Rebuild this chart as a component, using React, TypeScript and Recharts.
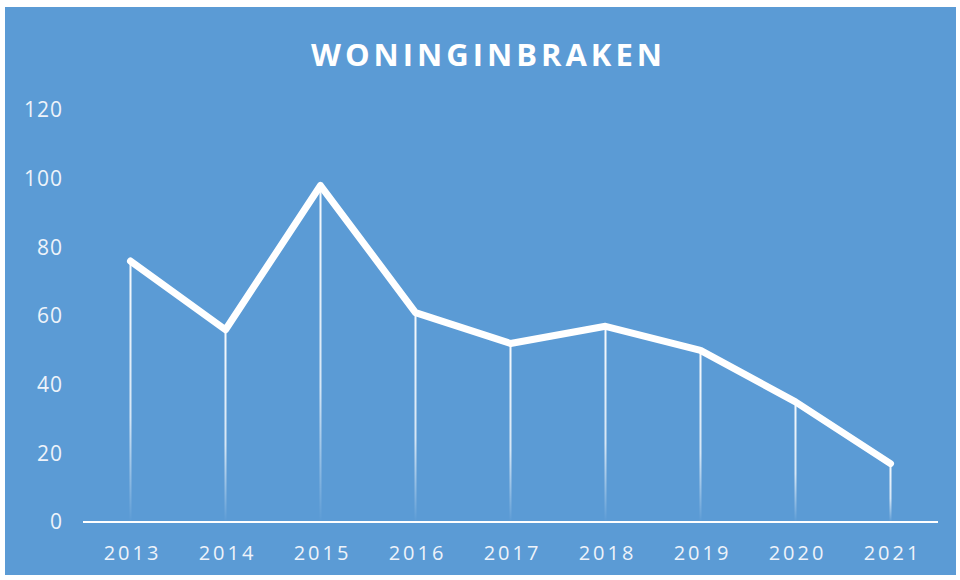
import { ComposedChart, Line, Bar, XAxis, YAxis } from 'recharts'

const years = ['2013', '2014', '2015', '2016', '2017', '2018', '2019', '2020', '2021']
const inbraken = [76, 56, 98, 61, 52, 57, 50, 35, 17]
const yTicks = [0, 20, 40, 60, 80, 100, 120]

const data = years.map((year, i) => ({ year, value: inbraken[i] }))

const DropLine = (props: any) => {
  const { x, y, width, height } = props
  if (height == null || height <= 0) return null
  return <rect x={x + width / 2 - 1} y={y} width={2} height={height} fill="url(#dropFade)" />
}

export default function App() {
  return (
    <div
      style={{
        position: 'absolute',
        left: 5,
        top: 7,
        width: 951,
        height: 568,
        background: '#5B9BD5',
      }}
    >
      <div
        style={{
          position: 'absolute',
          top: 26,
          left: 8,
          width: '100%',
          textAlign: 'center',
          fontFamily: '"Open Sans", sans-serif',
          fontWeight: 700,
          fontSize: 31,
          letterSpacing: 4,
          color: '#ffffff',
        }}
      >
        WONINGINBRAKEN
      </div>
      <ComposedChart
        width={951}
        height={568}
        data={data}
        margin={{ top: 103, right: 18, left: 18, bottom: 13 }}
      >
        <defs>
          <linearGradient id="dropFade" x1="0" y1="0" x2="0" y2="1">
            <stop offset="0%" stopColor="#ffffff" stopOpacity={0.95} />
            <stop offset="60%" stopColor="#ffffff" stopOpacity={0.75} />
            <stop offset="100%" stopColor="#ffffff" stopOpacity={0} />
          </linearGradient>
        </defs>
        <XAxis
          dataKey="year"
          axisLine={{ stroke: '#ffffff', strokeWidth: 2 }}
          tickLine={false}
          height={40}
          tickMargin={18}
          tick={{ fill: '#eef3fa', fontSize: 20, fontFamily: '"Open Sans", sans-serif', letterSpacing: 3, dx: 2 }}
        />
        <YAxis
          width={60}
          domain={[0, 120]}
          ticks={yTicks}
          axisLine={false}
          tickLine={false}
          tickMargin={14}
          tick={{ fill: '#eef3fa', fontSize: 21, fontFamily: '"Open Sans", sans-serif', letterSpacing: 1 }}
        />
        <Bar dataKey="value" shape={<DropLine />} isAnimationActive={false} />
        <Line
          type="linear"
          dataKey="value"
          stroke="#ffffff"
          strokeWidth={7}
          strokeLinejoin="round"
          strokeLinecap="round"
          dot={false}
          activeDot={false}
          isAnimationActive={false}
        />
      </ComposedChart>
    </div>
  )
}
